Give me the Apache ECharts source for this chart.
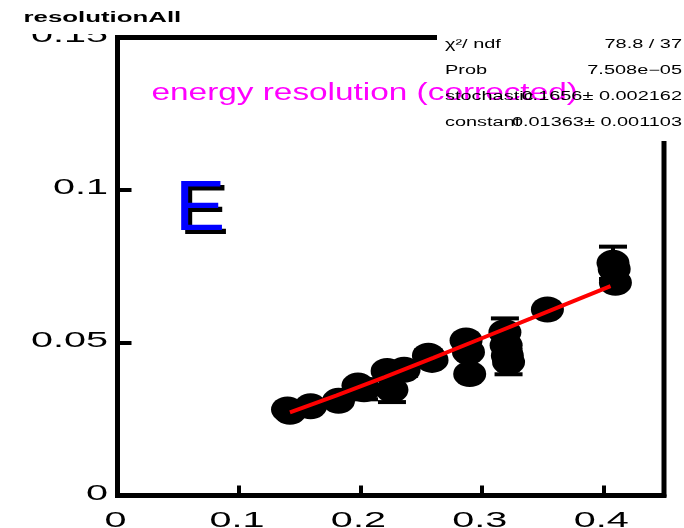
<!DOCTYPE html>
<html>
<head>
<meta charset="utf-8">
<script src="https://cdn.jsdelivr.net/npm/echarts@6/dist/echarts.min.js"></script>
<style>
  html, body { margin: 0; padding: 0; background: #ffffff; }
  #chart { width: 684px; height: 528px; }
</style>
</head>
<body>
<div id="chart"></div>
<script>
// Measured energy resolution per point: x, resolution, vertical error
const ptX   = [0.140, 0.142, 0.159, 0.182, 0.198, 0.203, 0.222, 0.226, 0.236, 0.256, 0.259, 0.287, 0.289, 0.290, 0.319, 0.320, 0.321, 0.322, 0.354, 0.408, 0.409, 0.410];
const ptY   = [0.0282, 0.0274, 0.0292, 0.0310, 0.0360, 0.0348, 0.0408, 0.0346, 0.0412, 0.0458, 0.0444, 0.0508, 0.0470, 0.0398, 0.0535, 0.0492, 0.0458, 0.0437, 0.0609, 0.0762, 0.0742, 0.0697];
const ptErr = [0.0008, 0.0008, 0.0008, 0.0008, 0.0010, 0.0033, 0.0012, 0.0040, 0.0020, 0.0018, 0.0012, 0.0012, 0.0012, 0.0012, 0.0045, 0.0015, 0.0015, 0.0040, 0.0008, 0.0053, 0.0015, 0.0015];

// Fitted resolution curve (stochastic ⊕ constant)
const fitX = [0.142, 0.18, 0.22, 0.26, 0.30, 0.34, 0.38, 0.406];
const fitY = [0.0272, 0.0327, 0.0388, 0.0451, 0.0515, 0.0579, 0.0644, 0.0686];

// Axis ticks and their labels
const xTicks = [0, 0.1, 0.2, 0.3, 0.4];
const xTickLabels = ['0', '0.1', '0.2', '0.3', '0.4'];
const yTicks = [0, 0.05, 0.1, 0.15];
const yTickLabels = ['0', '0.05', '0.1', '0.15'];

// Fit statistics box rows
const statNames  = ['χ²/ ndf', 'Prob', 'stochastic', 'constant'];
const statValues = ['78.8 / 37', '7.508e−05', '0.1656± 0.002162', '0.01363± 0.001103'];

const histTitle = 'resolutionAll';
const plotLabel = 'energy resolution (corrected)';
const panelLetter = 'E';

const FONT = '"Liberation Sans", Arial, Helvetica, sans-serif';

const chart = echarts.init(document.getElementById('chart'), null, { renderer: 'canvas' });

const points = ptX.map((x, i) => [x, ptY[i], ptErr[i]]);
const fitLine = fitX.map((x, i) => [x, fitY[i]]);

chart.setOption({
  animation: false,
  backgroundColor: '#ffffff',
  grid: {
    left: 117.5, right: 20, top: 37.5, bottom: 32.5,
    show: true, borderColor: '#000000', borderWidth: 5,
    backgroundColor: 'transparent'
  },
  xAxis: {
    type: 'value', min: 0, max: 0.45, interval: 0.1,
    axisLine: { show: true, onZero: false, lineStyle: { color: '#000', width: 5 } },
    axisTick: { show: true, inside: true, length: 10, lineStyle: { color: '#000', width: 4 } },
    axisLabel: { show: false },
    splitLine: { show: false }
  },
  yAxis: {
    type: 'value', min: 0, max: 0.15, interval: 0.05,
    axisLine: { show: true, onZero: false, lineStyle: { color: '#000', width: 5 } },
    axisTick: { show: true, inside: true, length: 14, lineStyle: { color: '#000', width: 4 } },
    axisLabel: { show: false },
    splitLine: { show: false }
  },
  series: [
    {
      // vertical error bars with end caps
      type: 'custom',
      z: 3,
      data: points,
      renderItem: function (params, api) {
        const x = api.value(0), y = api.value(1), e = api.value(2);
        const hi = api.coord([x, y + e]);
        const lo = api.coord([x, y - e]);
        const half = 14;
        const st = { stroke: '#000', lineWidth: 4 };
        return {
          type: 'group',
          children: [
            { type: 'line', shape: { x1: hi[0], y1: hi[1], x2: lo[0], y2: lo[1] }, style: st },
            { type: 'line', shape: { x1: hi[0] - half, y1: hi[1], x2: hi[0] + half, y2: hi[1] }, style: st },
            { type: 'line', shape: { x1: lo[0] - half, y1: lo[1], x2: lo[0] + half, y2: lo[1] }, style: st }
          ]
        };
      }
    },
    {
      type: 'scatter',
      z: 4,
      data: points.map(p => [p[0], p[1]]),
      symbol: 'path://M0,10A10,10,0,1,1,20,10A10,10,0,1,1,0,10Z',
      symbolSize: [33, 26],
      itemStyle: { color: '#000000', opacity: 1 },
      emphasis: { disabled: true },
      silent: true
    },
    {
      type: 'line',
      z: 5,
      data: fitLine,
      showSymbol: false,
      symbol: 'none',
      lineStyle: { color: '#ff0000', width: 4 },
      silent: true
    }
  ]
});

// Text drawn with a horizontal stretch to match the wide canvas lettering
function txt(text, x, y, opts) {
  return {
    type: 'text', x: x, y: y, z: opts.z || 10, silent: true,
    scaleX: opts.scaleX || 1,
    style: {
      text: text,
      fontFamily: FONT,
      fontSize: opts.size,
      fontWeight: opts.weight || 'normal',
      fill: opts.color || '#000',
      textAlign: opts.align || 'left',
      textVerticalAlign: 'middle'
    }
  };
}

const gfx = [];

xTicks.forEach((v, i) => {
  const p = chart.convertToPixel({ xAxisIndex: 0 }, v);
  gfx.push(txt(xTickLabels[i], p - 2, 521, { size: 22, scaleX: 1.8, align: 'center' }));
});
yTicks.forEach((v, i) => {
  const p = chart.convertToPixel({ yAxisIndex: 0 }, v);
  gfx.push(txt(yTickLabels[i], 108, p - 2, { size: 22, scaleX: 1.8, align: 'right' }));
});

// title pad
gfx.push({ type: 'rect', z: 20, silent: true, shape: { x: 0, y: 0, width: 207, height: 34 }, style: { fill: '#ffffff' } });
gfx.push(txt(histTitle, 23.5, 18.3, { size: 14.5, weight: 'bold', scaleX: 1.78, z: 21 }));

// statistics pad
gfx.push({ type: 'rect', z: 20, silent: true, shape: { x: 437, y: 27, width: 247, height: 114 }, style: { fill: '#ffffff' } });

// plot caption
gfx.push(txt(plotLabel, 151.5, 93.5, { size: 23, scaleX: 1.45, color: '#ff00ff', z: 21 }));

const rowBase = [49, 75, 101, 127];
statNames.forEach((n, i) => {
  gfx.push(txt(n, 445, rowBase[i] - 4.2, { size: 12, scaleX: 1.66, z: 22 }));
  gfx.push(txt(statValues[i], 682, rowBase[i] - 4.2, { size: 12, scaleX: 1.66, align: 'right', z: 22 }));
});

// panel letter with drop shadow
gfx.push(txt(panelLetter, 179, 214, { size: 71, scaleX: 1.06, color: '#000000', z: 21 }));
gfx.push(txt(panelLetter, 175, 210, { size: 71, scaleX: 1.06, color: '#0000ff', z: 22 }));

chart.setOption({ graphic: { elements: gfx } });
</script>
</body>
</html>
